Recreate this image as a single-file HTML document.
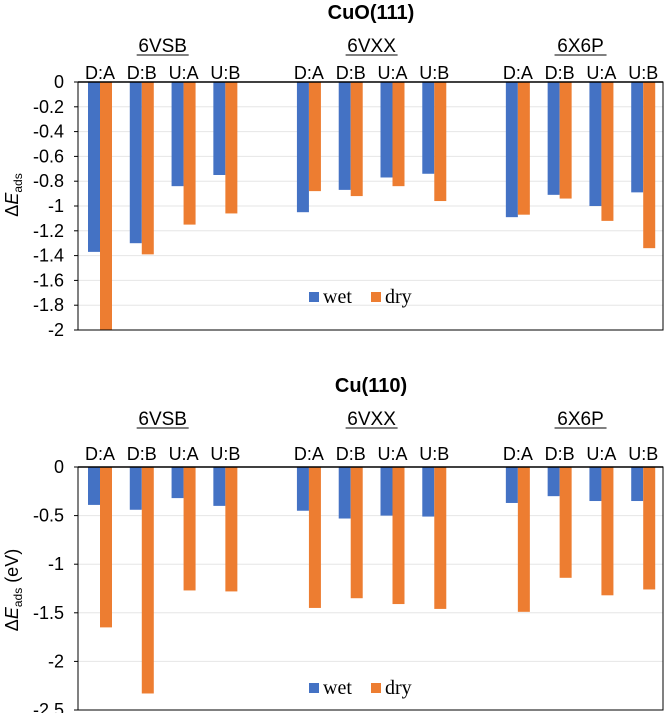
<!DOCTYPE html>
<html><head><meta charset="utf-8"><style>
body{margin:0;background:#fff;}
svg text{font-family:"Liberation Sans",sans-serif;fill:#000;}
.serif{font-family:"Liberation Serif",serif;}
</style></head><body>
<svg id="svg" width="665" height="713" xmlns="http://www.w3.org/2000/svg"></svg>
<script>
const groups = ["6VSB","6VXX","6X6P"];
const categories = ["D:A","D:B","U:A","U:B"];
const topWet = [-1.37,-1.30,-0.84,-0.75, -1.05,-0.87,-0.77,-0.74, -1.09,-0.91,-1.00,-0.89];
const topDry = [-2.00,-1.39,-1.15,-1.06, -0.88,-0.92,-0.84,-0.96, -1.07,-0.94,-1.12,-1.34];
const botWet = [-0.39,-0.44,-0.32,-0.40, -0.45,-0.53,-0.50,-0.51, -0.37,-0.30,-0.35,-0.35];
const botDry = [-1.65,-2.33,-1.27,-1.28, -1.45,-1.35,-1.41,-1.46, -1.49,-1.14,-1.32,-1.26];
const topTicks = [0,-0.2,-0.4,-0.6,-0.8,-1,-1.2,-1.4,-1.6,-1.8,-2];
const botTicks = [0,-0.5,-1,-1.5,-2,-2.5];

const NS="http://www.w3.org/2000/svg";
const svg=document.getElementById('svg');
function mk(tag,attrs,parent){const e=document.createElementNS(NS,tag);for(const k in attrs)e.setAttribute(k,attrs[k]);(parent||svg).appendChild(e);return e;}

function panel(o){
  const g=mk('g',{});
  
  
  const L=78,R=663,slot=(R-L)/14;
  const y=v=>o.y0+(v/o.min)*(o.yb-o.y0);
  const slotX=i=>L+(Math.floor(i/4)*5+(i%4))*slot;
  o.ticks.forEach(t=>{
    const ln=mk('line',{x1:L,x2:R,y1:y(t),y2:y(t),stroke:'#e6e6e6','stroke-width':1},g);
    
    
    const tx=mk('text',{x:64,y:y(t)+6,'text-anchor':'end','font-size':18},g);
    tx.textContent=String(t);
    
    
    const tk=mk('line',{x1:L-4,x2:L,y1:y(t),y2:y(t),stroke:'#000'},g);
    
    
  });
  o.wet.forEach((v,i)=>{
    const x=slotX(i);
    const b=mk('rect',{x:x+10,y:y(0),width:12,height:y(v)-y(0),fill:'#4472c4'},g);
    
    
  });
  o.dry.forEach((v,i)=>{
    const x=slotX(i);
    const b=mk('rect',{x:x+22,y:y(0),width:12,height:y(v)-y(0),fill:'#ed7d31'},g);
    
    
  });
  const fr=mk('rect',{x:L,y:o.y0,width:R-L,height:o.yb-o.y0,fill:'none',stroke:'#000','stroke-width':1},g);
  
  
  const ax=mk('line',{x1:L,x2:R,y1:o.y0,y2:o.y0,stroke:'#000','stroke-width':1.5},g);
  
  
  for(let i=0;i<12;i++){
    const t=mk('text',{x:slotX(i)+22,y:o.catY,'text-anchor':'middle','font-size':18},g);
    t.textContent=categories[i%4];
    
    
  }
  groups.forEach((gn,k)=>{
    const cx=(slotX(k*4+1)+slotX(k*4+2))/2+22;
    const t=mk('text',{x:cx,y:o.grpY,'text-anchor':'middle','font-size':19},g);
    t.textContent=gn;
    
    
    const ul=mk('line',{x1:cx-26,x2:cx+26,y1:o.grpY+3,y2:o.grpY+3,stroke:'#000'},g);
    
    
  });
  const ti=mk('text',{x:371,y:o.titleY,'text-anchor':'middle','font-size':20,'font-weight':'bold'},g);
  ti.textContent=o.title;
  
  
  const yt=mk('text',{transform:`translate(18,${o.ytY}) rotate(-90)`,'text-anchor':'middle','font-size':18},g);
  yt.innerHTML='<tspan>Δ</tspan><tspan font-style="italic">E</tspan><tspan font-size="12" dy="4">ads</tspan>'+(o.unit?'<tspan dy="-4"> (eV)</tspan>':'');
  
  
  const lg=mk('g',{},g);
  
  
  mk('rect',{x:309,y:o.legY-11,width:10,height:10,fill:'#4472c4'},lg);
  const lw=mk('text',{x:323,y:o.legY,'font-size':20,class:'serif'},lg);lw.textContent='wet';
  
  
  mk('rect',{x:371,y:o.legY-11,width:10,height:10,fill:'#ed7d31'},lg);
  const ld=mk('text',{x:385,y:o.legY,'font-size':20,class:'serif'},lg);ld.textContent='dry';
  
  
}
panel({name:'cuo111-panel',title:'CuO(111)',y0:82,yb:330,min:-2,ticks:topTicks,wet:topWet,dry:topDry,titleY:19,grpY:52,catY:79,ytY:195,unit:false,legY:303});
panel({name:'cu110-panel',title:'Cu(110)',y0:467,yb:710,min:-2.5,ticks:botTicks,wet:botWet,dry:botDry,titleY:392,grpY:425,catY:460,ytY:590,unit:true,legY:694});
</script>
</body></html>
